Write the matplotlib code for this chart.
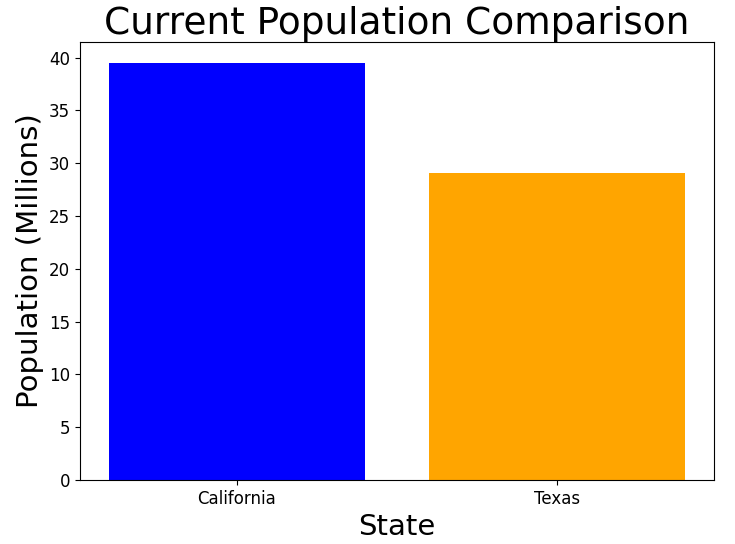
import matplotlib
matplotlib.use("Agg")
import matplotlib.pyplot as plt

states = ["California", "Texas"]
population = [39.5, 29.1]
colors = ["blue", "orange"]

fig = plt.figure(figsize=(7.35, 5.44), dpi=100)
ax = fig.add_axes([80/735, 64/544, 634/735, 438/544])
ax.bar(states, population, color=colors)
ax.set_title("Current Population Comparison", fontsize=27, pad=4)
ax.set_xlabel("State", fontsize=21, labelpad=4)
ax.set_ylabel("Population (Millions)", fontsize=21)
ax.tick_params(labelsize=12)
ax.set_yticks(range(0, 41, 5))
fig.savefig("out.png", dpi=100)
